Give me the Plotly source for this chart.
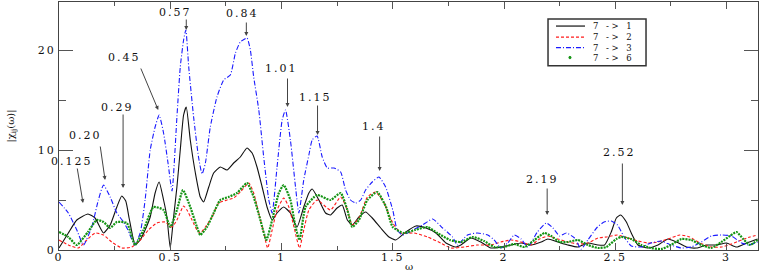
import plotly.graph_objects as go

# omega / |chi| values, one pair of lists per transition
w_71 = [0.0, 0.042, 0.08, 0.13, 0.162, 0.2, 0.23, 0.26, 0.282, 0.3, 0.315, 0.33, 0.342, 0.365, 0.387, 0.41,
        0.432, 0.45, 0.47, 0.485, 0.5, 0.515, 0.53, 0.545, 0.56, 0.572, 0.59, 0.613, 0.635, 0.65, 0.673, 0.695,
        0.725, 0.755, 0.785, 0.815, 0.845, 0.868, 0.89, 0.913, 0.935, 0.958, 0.98, 1.01, 1.04, 1.07, 1.1, 1.123,
        1.138, 1.168, 1.198, 1.22, 1.25, 1.273, 1.296, 1.318, 1.348, 1.378, 1.408, 1.446, 1.483, 1.513, 1.559,
        1.604, 1.649, 1.694, 1.739, 1.784, 1.806, 1.851, 1.896, 1.941, 1.986, 2.032, 2.077, 2.122, 2.167, 2.197,
        2.242, 2.287, 2.332, 2.377, 2.422, 2.452, 2.482, 2.505, 2.524, 2.55, 2.572, 2.602, 2.647, 2.692, 2.737,
        2.775, 2.82, 2.865, 2.91, 2.955, 3.0, 3.045, 3.09, 3.14]
chi_71 = [0.2, 1.7, 3.0, 3.6, 3.2, 1.7, 2.5, 4.3, 5.4, 4.9, 3.2, 1.5, 0.5, 1.0, 2.0, 3.3,
          5.7, 6.8, 5.0, 3.3, 0.2, 3.3, 6.3, 10.0, 13.5, 14.3, 11.0, 7.7, 5.3, 4.8, 6.3, 7.7,
          8.3, 8.0, 8.7, 9.3, 10.2, 9.7, 8.3, 6.3, 4.3, 3.0, 3.7, 4.3, 3.7, 2.3, 4.3, 5.7,
          6.1, 5.0, 3.7, 3.5, 4.2, 4.5, 3.0, 2.5, 3.3, 3.8, 3.2, 2.2, 1.3, 1.0, 1.8,
          2.4, 2.2, 1.7, 0.7, 0.3, 0.5, 1.2, 0.8, 0.2, 0.3, 0.5, 0.7, 0.5, 0.8, 1.1,
          0.8, 0.5, 0.3, 0.7, 0.5, 0.5, 1.8, 3.2, 3.5, 2.8, 1.7, 0.5, 0.2, 0.5, 1.1,
          0.8, 0.3, 0.2, 0.5, 0.5, 0.7, 0.3, 0.7, 1.1]

w_72 = [0.0, 0.042, 0.087, 0.125, 0.162, 0.2, 0.237, 0.282, 0.327, 0.365, 0.402, 0.44, 0.477, 0.507, 0.53,
        0.56, 0.575, 0.598, 0.62, 0.635, 0.658, 0.688, 0.718, 0.755, 0.785, 0.815, 0.853, 0.875, 0.898, 0.92,
        0.938, 0.958, 0.98, 1.01, 1.033, 1.056, 1.081, 1.1, 1.123, 1.16, 1.22, 1.266, 1.296, 1.318, 1.348,
        1.386, 1.423, 1.461, 1.5, 1.536, 1.596, 1.656, 1.716, 1.761, 1.821, 1.88, 1.941, 1.986, 2.032, 2.077,
        2.122, 2.16, 2.197, 2.242, 2.287, 2.332, 2.377, 2.422, 2.46, 2.482, 2.51, 2.557, 2.602, 2.647, 2.692,
        2.737, 2.79, 2.835, 2.88, 2.932, 2.977, 3.022, 3.068, 3.105, 3.14]
chi_72 = [1.0, 0.5, 0.2, 1.0, 1.7, 1.5, 0.8, 0.2, 0.3, 1.0, 2.0, 2.7, 2.8, 2.3, 3.0,
          4.4, 4.0, 3.0, 2.0, 1.7, 2.3, 3.3, 4.7, 5.0, 5.2, 5.8, 6.7, 5.7, 3.7, 1.7,
          0.2, 2.0, 4.0, 5.2, 4.3, 2.3, 0.2, 2.0, 4.0, 5.0, 4.0, 5.3, 4.0, 2.5, 3.2,
          5.3, 5.8, 4.7, 2.7, 1.7, 1.7, 1.3, 0.7, 0.2, 0.3, 0.5, 0.5, 0.8, 1.0, 0.8,
          0.5, 1.1, 1.4, 1.1, 0.8, 0.6, 0.7, 1.2, 1.3, 1.4, 1.5, 1.2, 0.9, 0.7, 0.8,
          1.1, 1.5, 1.3, 0.7, 0.3, 0.3, 0.6, 1.0, 1.3, 1.5]

w_73 = [0.0, 0.042, 0.08, 0.11, 0.147, 0.177, 0.2, 0.23, 0.26, 0.29, 0.31, 0.34, 0.365, 0.387, 0.41, 0.432,
        0.45, 0.47, 0.49, 0.508, 0.53, 0.545, 0.56, 0.57, 0.583, 0.605, 0.627, 0.643, 0.658, 0.68, 0.71, 0.74,
        0.77, 0.793, 0.815, 0.845, 0.86, 0.875, 0.898, 0.92, 0.943, 0.958, 0.98, 1.003, 1.018, 1.04, 1.063,
        1.078, 1.1, 1.123, 1.138, 1.16, 1.183, 1.206, 1.236, 1.266, 1.288, 1.31, 1.333, 1.356, 1.378, 1.408,
        1.438, 1.468, 1.5, 1.52, 1.544, 1.59, 1.634, 1.679, 1.724, 1.769, 1.79, 1.836, 1.88, 1.927, 1.956,
        1.986, 2.017, 2.046, 2.077, 2.107, 2.15, 2.19, 2.22, 2.25, 2.28, 2.317, 2.347, 2.377, 2.42, 2.45,
        2.482, 2.51, 2.54, 2.572, 2.617, 2.66, 2.707, 2.75, 2.797, 2.842, 2.887, 2.932, 2.977, 3.022, 3.068,
        3.098, 3.14]
chi_73 = [4.8, 3.7, 2.0, 0.5, 2.3, 5.0, 6.5, 5.3, 3.7, 2.8, 2.0, 0.5, 1.7, 5.0, 10.0, 12.3,
          13.5, 11.7, 8.7, 5.9, 13.3, 18.3, 21.0, 22.0, 18.3, 13.3, 9.3, 7.6, 8.7, 12.3, 15.3, 17.0,
          17.5, 19.7, 20.8, 21.2, 20.0, 17.3, 14.0, 9.3, 5.0, 3.7, 8.3, 13.0, 14.0, 11.0, 6.3,
          3.7, 7.0, 9.5, 11.0, 11.4, 9.3, 8.2, 8.2, 7.8, 6.0, 5.0, 4.7, 5.0, 6.0, 6.8,
          7.3, 6.3, 4.0, 2.0, 1.5, 2.0, 2.5, 3.1, 2.2, 1.3, 0.5, 1.5, 1.7, 1.5, 1.0,
          0.2, 0.7, 1.5, 1.1, 0.3, 1.8, 2.7, 2.2, 1.4, 1.7, 1.2, 0.1, 1.0, 2.3, 2.8,
          2.9, 2.5, 1.3, 0.4, 0.3, 0.7, 0.9, 0.5, 0.2, 0.3, 0.8, 1.4, 1.5, 1.4, 0.7,
          0.5, 0.8]

w_76 = [0.0, 0.042, 0.08, 0.13, 0.17, 0.2, 0.23, 0.26, 0.305, 0.342, 0.38, 0.425, 0.47, 0.5, 0.53, 0.557,
        0.59, 0.62, 0.635, 0.665, 0.695, 0.725, 0.762, 0.8, 0.845, 0.875, 0.905, 0.932, 0.958, 0.988, 1.01,
        1.04, 1.063, 1.081, 1.108, 1.16, 1.22, 1.266, 1.296, 1.318, 1.348, 1.386, 1.43, 1.47, 1.5, 1.55, 1.6,
        1.656, 1.7, 1.757, 1.806, 1.86, 1.911, 1.956, 2.0, 2.046, 2.092, 2.137, 2.182, 2.212, 2.25, 2.287,
        2.332, 2.377, 2.422, 2.46, 2.505, 2.527, 2.572, 2.617, 2.66, 2.707, 2.75, 2.797, 2.842, 2.887, 2.932,
        2.977, 3.015, 3.045, 3.075, 3.105, 3.14]
chi_76 = [1.8, 1.3, 0.5, 1.8, 3.0, 2.8, 2.2, 2.8, 2.7, 0.5, 2.0, 4.3, 4.0, 2.3, 4.0, 6.0,
          4.3, 2.3, 1.5, 2.3, 3.7, 5.0, 5.3, 5.7, 6.7, 5.3, 3.0, 1.0, 3.0, 5.7, 6.5,
          5.0, 2.3, 1.0, 4.3, 5.5, 5.0, 5.7, 4.0, 2.3, 3.0, 5.0, 5.8, 4.3, 2.3, 1.7, 2.0,
          2.3, 1.7, 1.0, 0.8, 1.3, 0.9, 0.3, 0.3, 0.6, 0.3, 1.0, 1.7, 1.4, 0.8, 0.8,
          1.0, 0.5, 0.2, 0.3, 1.1, 1.3, 1.1, 0.5, 0.2, 0.1, 0.5, 1.1, 1.0, 0.5, 0.2,
          0.8, 1.4, 1.8, 1.1, 0.5, 1.0]

series_names = ["7 -> 1", "7 -> 2", "7 -> 3", "7 -> 6"]
peak_labels = ["0.125", "0.20", "0.29", "0.45", "0.57", "0.84", "1.01", "1.15", "1.4", "2.19", "2.52"]

x_tick_vals = [0, 0.5, 1, 1.5, 2, 2.5, 3]
x_tick_text = ["0", "0.5", "1", "1.5", "2", "2.5", "3"]
y_tick_vals = [0, 10, 20]
y_tick_text = ["0", "10", "20"]

FONT = "DejaVu Serif"


def spaced(s, px=2):
    # wide letter spacing like the original figure
    return '<span style="letter-spacing:%spx">%s</span>' % (px, s)


fig = go.Figure()

# the four curves
styles = [
    (w_71, chi_71, dict(color="#111111", width=1.1)),
    (w_72, chi_72, dict(color="#ff1a1a", width=1.1, dash="3px,2px")),
    (w_73, chi_73, dict(color="#1a1aff", width=1.1, dash="5px,2px,1px,2px")),
    (w_76, chi_76, dict(color="#149414", width=2.2, dash="2px,1px")),
]
for (wx, cy, ln), name in zip(styles, series_names):
    ln["shape"] = "spline"
    ln["smoothing"] = 0.5
    fig.add_trace(go.Scatter(x=wx, y=cy, mode="lines", name=name, line=ln, showlegend=False))

# peak annotations: arrow head (data), tail offset (px), label centre (data)
arrows = [
    ((0.108, 4.7), (-6, -36), (0.059, 8.9)),
    ((0.207, 7.0), (-5, -35), (0.117, 11.5)),
    ((0.288, 6.2), (0, -75), (0.261, 14.3)),
    ((0.446, 14.0), (-18, -43), (0.293, 19.3)),
    ((0.572, 22.0), (0, -12), (0.523, 23.8)),
    ((0.842, 21.4), (0, -15), (0.824, 23.7)),
    ((1.027, 14.3), (0, -30), (1.0, 18.2)),
    ((1.162, 11.5), (0, -31), (1.153, 15.3)),
    ((1.441, 7.9), (0, -36), (1.414, 12.4)),
    ((2.194, 3.5), (0, -28), (2.171, 7.1)),
    ((2.532, 4.5), (0, -43), (2.518, 9.8)),
]
for label, (head, tail, txt) in zip(peak_labels, arrows):
    fig.add_annotation(x=head[0], y=head[1], ax=tail[0], ay=tail[1], text="", showarrow=True,
                       arrowhead=2, arrowsize=0.8, arrowwidth=1, arrowcolor="#444444")
    fig.add_annotation(x=txt[0], y=txt[1], text=spaced(label), showarrow=False,
                       font=dict(family=FONT, size=11, color="#111111"))

# hand made legend box in the upper right
fig.add_shape(type="rect", xref="paper", yref="paper", x0=0.6996, x1=0.8398, y0=0.743, y1=0.9315,
              line=dict(color="#333333", width=1.5), fillcolor="white")
rows = [0.903, 0.858, 0.816, 0.776]
for (wx, cy, ln), name, ry in zip(styles, series_names, rows):
    if name == "7 -> 6":
        fig.add_shape(type="circle", xref="paper", yref="paper", x0=0.7295, x1=0.7325,
                      y0=ry - 0.005, y1=ry + 0.005, line=dict(color=ln["color"], width=1),
                      fillcolor=ln["color"])
    else:
        fig.add_shape(type="line", xref="paper", yref="paper", x0=0.711, x1=0.7525, y0=ry, y1=ry,
                      line=dict(color=ln["color"], width=1.2, dash=ln.get("dash", "solid")))
    fig.add_annotation(xref="paper", yref="paper", x=0.762, y=ry, xanchor="left", yanchor="middle",
                       text=spaced(name, 2.5), showarrow=False, borderpad=0,
                       font=dict(family=FONT, size=8.5, color="#111111"))

# omega label under the axis
fig.add_annotation(xref="paper", yref="paper", x=0.5, y=-0.066, yanchor="middle", text="ω",
                   showarrow=False, borderpad=0, font=dict(family=FONT, size=10, color="#111111"))

fig.update_layout(
    width=763, height=273,
    margin=dict(l=59, r=5, t=2, b=23),
    paper_bgcolor="white", plot_bgcolor="white",
    font=dict(family=FONT, size=11, color="#111111"),
    showlegend=False,
)
fig.update_xaxes(
    range=[0, 3.1416], showline=True, mirror="allticks", linecolor="#444444", linewidth=1,
    showgrid=False, zeroline=False, automargin=False,
    ticks="inside", ticklen=7, tickcolor="#555555", ticklabelstandoff=-3,
    tickvals=x_tick_vals, ticktext=[spaced(t) for t in x_tick_text],
    minor=dict(ticks="inside", dtick=0.25, ticklen=4, tickcolor="#555555"),
)
fig.update_yaxes(
    range=[0, 24.8], showline=True, mirror="allticks", linecolor="#444444", linewidth=1,
    showgrid=False, zeroline=False, automargin=False,
    ticks="inside", ticklen=14, tickcolor="#555555",
    tickvals=y_tick_vals, ticktext=[spaced(t) for t in y_tick_text],
    minor=dict(ticks="inside", dtick=5, ticklen=7, tickcolor="#555555"),
    title=dict(text="|χ<sub>ij</sub>(ω)|", font=dict(family=FONT, size=10), standoff=21),
)

# page body has a default 8px margin, drop it so the figure sits at the top-left corner
fig.write_html("out.html", config={"displayModeBar": False},
               post_script="document.body.style.margin='0px';")
